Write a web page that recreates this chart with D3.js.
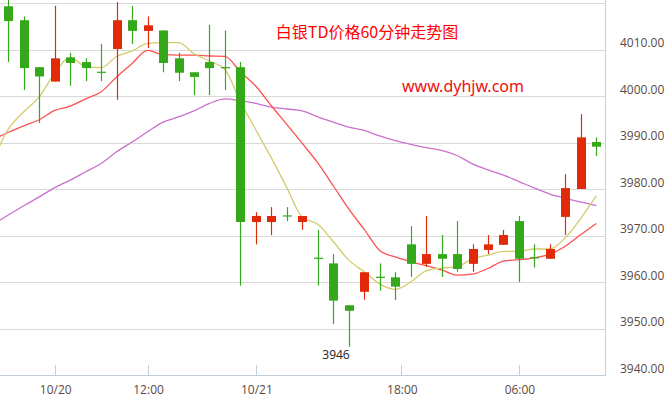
<!DOCTYPE html>
<html><head><meta charset="utf-8">
<script src="https://cdn.jsdelivr.net/npm/d3@7"></script>
<style>
html,body{margin:0;padding:0;background:#fff;}
svg{display:block;}
</style></head>
<body>
<svg id="chart" width="670" height="400"></svg>
<script>
// ---- data ----
const opens  = [4019.3,4016.3,4006.2,4003.1,4008.3,4007.3,4005.1,4010.1,4016.3,4014.0,4014.1,4008.1,4005.1,4007.3,4006.1,4006.2,3972.9,3972.9,3974.2,3972.9,3965.1,3964.0,3955.0,3957.9,3961.0,3961.0,3968.1,3963.9,3966.0,3966.0,3963.9,3966.9,3968.0,3973.1,3965.2,3965.0,3974.0,3980.0,3990.1];
const highs  = [4021.0,4017.1,4006.2,4019.4,4009.3,4008.1,4011.2,4020.2,4019.4,4017.1,4014.1,4009.3,4005.1,4015.3,4014.1,4007.3,3975.0,3976.1,3976.1,3974.2,3971.2,3966.0,3955.0,3962.1,3964.0,3962.1,3972.0,3974.2,3970.1,3973.1,3968.1,3970.1,3971.2,3974.2,3968.1,3968.1,3983.2,3996.1,3991.1];
const lows   = [4007.3,4001.3,3994.2,4003.1,4002.2,4003.2,4003.2,3999.2,4011.2,4010.3,4005.1,4003.2,4000.2,4000.2,4001.3,3959.2,3968.1,3970.1,3973.1,3971.2,3959.2,3951.0,3946.1,3956.2,3958.1,3956.1,3961.1,3963.3,3961.1,3962.2,3962.2,3966.0,3968.0,3960.0,3963.1,3965.0,3970.1,3980.0,3987.1];
const closes = [4016.1,4006.0,4004.2,4008.1,4007.1,4006.0,4005.1,4016.3,4014.0,4015.2,4007.1,4005.0,4004.1,4006.0,4006.1,3972.9,3974.2,3974.2,3974.2,3974.2,3965.1,3956.0,3953.8,3962.1,3961.0,3959.0,3963.9,3966.0,3965.0,3962.8,3967.1,3968.1,3970.1,3965.0,3965.2,3967.1,3980.2,3991.1,3989.1];

// moving-average lines as drawn (first value belongs to the bar just left of the view)
const ma5  = [3986.0,3992.9,3996.6,3999.8,4004.9,4008.3,4006.3,4006.1,4008.5,4009.7,4011.3,4011.5,4011.5,4009.1,4007.5,4005.7,3998.8,3992.7,3986.7,3980.3,3973.9,3972.4,3968.7,3964.7,3962.2,3959.6,3958.4,3960.0,3962.4,3963.0,3963.3,3965.0,3965.8,3966.6,3966.6,3967.1,3967.1,3969.5,3973.7,3978.5];
const ma10 = [3990.6,3992.2,3993.6,3994.9,3996.9,3997.8,3999.4,4000.9,4004.1,4007.0,4009.8,4008.9,4008.8,4008.8,4008.6,4008.5,4005.2,4002.1,3997.9,3993.9,3989.8,3985.6,3980.7,3975.7,3971.3,3966.8,3965.4,3964.4,3963.5,3962.6,3961.5,3961.7,3962.9,3964.5,3964.8,3965.2,3966.0,3967.7,3970.2,3972.6];
const ma30 = [3972.3,3974.4,3976.4,3978.3,3980.3,3981.9,3983.7,3985.5,3988.0,3990.1,3992.3,3994.4,3995.5,3996.8,3998.4,3999.4,3999.0,3998.4,3997.6,3997.2,3996.8,3995.5,3994.4,3993.3,3992.6,3991.4,3990.4,3989.6,3988.9,3988.3,3987.2,3985.4,3984.1,3983.0,3981.6,3980.2,3978.9,3978.0,3977.2,3976.4];

const xTickLabels = ["10/20","12:00","10/21","18:00","06:00"];
const xTickBars   = [3, 9, 16, 25.4, 33];
const yTicks = [3940,3950,3960,3970,3980,3990,4000,4010,4020];
const yLabelTicks = [3940,3950,3960,3970,3980,3990,4000,4010];
const titleText = "白银TD价格60分钟走势图";
const siteText = "www.dyhjw.com";
const lowNoteValue = "3946";
const lowNoteBar = 22;

// ---- layout ----
const W = 670, H = 400;
const plotR = 605, plotB = 375;
const svg = d3.select("#chart");

const x = d3.scaleLinear().domain([0, 38]).range([8.3, 596.3]);
const y = d3.scaleLinear().domain([3940, 4020]).range([plotB, 3]);

const UP = "#e02a0a", DOWN = "#35a81a";

// clip
svg.append("defs").append("clipPath").attr("id","clip")
  .append("rect").attr("x",0).attr("y",0).attr("width",plotR).attr("height",plotB);

// grid
svg.append("g").selectAll("line").data(yTicks).join("line")
  .attr("x1",0).attr("x2",plotR)
  .attr("y1",d=>Math.round(y(d))+0.5).attr("y2",d=>Math.round(y(d))+0.5)
  .attr("stroke","#d9d9d9").attr("stroke-width",1);

// axes lines
svg.append("line").attr("x1",plotR+0.5).attr("x2",plotR+0.5).attr("y1",0).attr("y2",plotB+0.5)
  .attr("stroke","#c4cfdc");
svg.append("line").attr("x1",0).attr("x2",plotR+1).attr("y1",plotB+0.5).attr("y2",plotB+0.5)
  .attr("stroke","#c4cfdc");

// x ticks
const xt = svg.append("g");
xt.selectAll("line").data(xTickBars).join("line")
  .attr("x1",d=>Math.round(x(d))+0.5).attr("x2",d=>Math.round(x(d))+0.5)
  .attr("y1",plotB-10).attr("y2",plotB)
  .attr("stroke","#c4cfdc");
xt.selectAll("text").data(xTickBars).join("text")
  .attr("x",d=>x(d)+1).attr("y",389)
  .attr("text-anchor","middle").attr("dominant-baseline","central")
  .attr("font-family","'Open Sans', sans-serif").attr("font-size",12)
  .attr("fill","#5a4a44")
  .text((d,i)=>xTickLabels[i]);

// y labels
svg.append("g").selectAll("text").data(yLabelTicks).join("text")
  .attr("x",620).attr("y",d=>y(d)-7)
  .attr("dominant-baseline","central")
  .attr("font-family","'Open Sans', sans-serif").attr("font-size",12)
  .attr("fill","#5a4a44")
  .text(d=>d.toFixed(2));

const plot = svg.append("g").attr("clip-path","url(#clip)");

// MA lines
const maIdx = d3.range(-1, 39);
function drawLine(vals, color){
  const line = d3.line().x((d,i)=>x(maIdx[i])).y(d=>y(d)).curve(d3.curveMonotoneX);
  plot.append("path").datum(vals).attr("d",line)
    .attr("fill","none").attr("stroke",color).attr("stroke-width",1.3);
}
drawLine(ma30, "#cc70cc");
drawLine(ma10, "#ff5050");
drawLine(ma5,  "#d2cc6a");

// candles
const idx = d3.range(opens.length);
const cg = plot.append("g");
idx.forEach(i=>{
  const o=opens[i], c=closes[i], h=highs[i], l=lows[i];
  const col = c > o ? UP : DOWN;
  const cx = Math.round(x(i));
  cg.append("line").attr("x1",cx+0.5).attr("x2",cx+0.5)
    .attr("y1",y(h)).attr("y2",y(l)).attr("stroke",col).attr("stroke-width",1.2);
  const top = y(Math.max(o,c)), bot = y(Math.min(o,c));
  const hgt = Math.max(1.2, bot-top);
  cg.append("rect").attr("x",cx-4).attr("width",9)
    .attr("y", hgt<=1.2 ? top-0.6 : top).attr("height",hgt)
    .attr("fill",col);
});

// low annotation
svg.append("text").attr("x",x(lowNoteBar)+1).attr("y",354)
  .attr("text-anchor","end").attr("dominant-baseline","central")
  .attr("font-family","'Open Sans', sans-serif").attr("font-size",12)
  .attr("fill","#222").text(lowNoteValue);

// title & site
svg.append("text").attr("x",367).attr("y",31)
  .attr("text-anchor","middle").attr("dominant-baseline","central")
  .attr("font-family","'Noto Sans CJK SC', sans-serif").attr("font-size",16)
  .attr("fill","#ff0000").text(titleText);
svg.append("text").attr("x",463).attr("y",86)
  .attr("text-anchor","middle").attr("dominant-baseline","central")
  .attr("font-family","'Noto Sans', sans-serif").attr("font-size",16)
  .attr("fill","#f01010").text(siteText);
</script>
</body></html>
